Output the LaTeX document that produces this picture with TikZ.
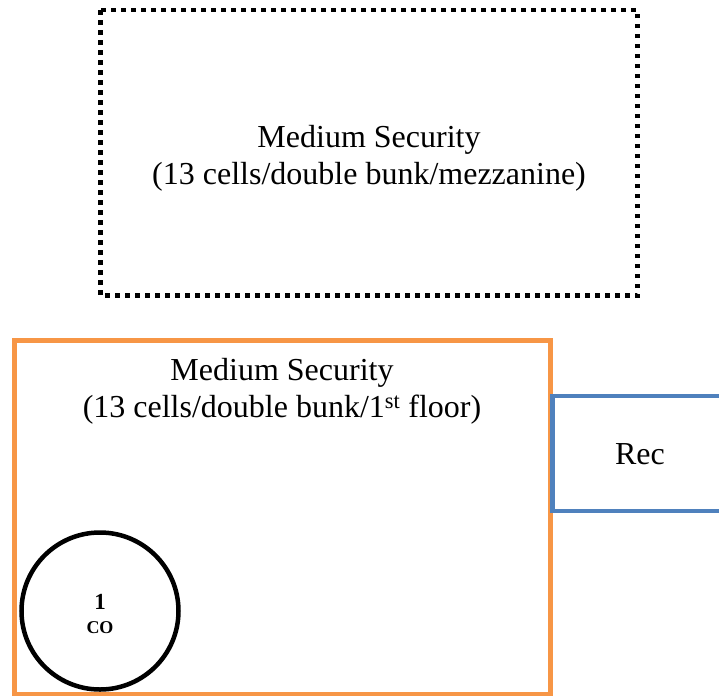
\documentclass[tikz,border=0pt]{standalone}
\usepackage{fontspec}
\setmainfont{Liberation Serif}
\definecolor{wallorange}{HTML}{F79646}
\definecolor{recblue}{HTML}{4F81BD}
\begin{document}
\begin{tikzpicture}[x=1pt,y=-1pt,
  label/.style={font=\fontsize{32}{37}\selectfont, align=center, inner sep=0pt},
  conum/.style={font=\fontsize{23}{26}\selectfont\bfseries, inner sep=0pt, anchor=base},
  cotext/.style={font=\fontsize{18}{20}\selectfont\bfseries, inner sep=0pt, anchor=base}]
\useasboundingbox (0,0) rectangle (719,696);
% mezzanine area, dotted outline
\draw[line width=4.5pt, dash pattern=on 4.5pt off 5.5pt] (100.5,10) rectangle (637.5,295.5);
\node[label] (mezz) at (369,158) {Medium Security\\(13 cells/double bunk/mezzanine)};
% first floor area
\draw[wallorange, line width=4.5pt] (14.5,340.5) rectangle (550.5,694);
\node[label] (floor) at (282,391) {Medium Security\\(13 cells/double bunk/1\textsuperscript{st} floor)};
% recreation room
\draw[recblue, line width=4.5pt] (730,396) -- (552.5,396) -- (552.5,511) -- (730,511);
\node[label] (rec) at (640,454) {Rec};
% officer post
\draw[line width=4.5pt] (100,611) circle (78.5);
\node[conum] (co-n) at (100,609) {1};
\node[cotext] (co) at (100,633) {CO};
\end{tikzpicture}
\end{document}
